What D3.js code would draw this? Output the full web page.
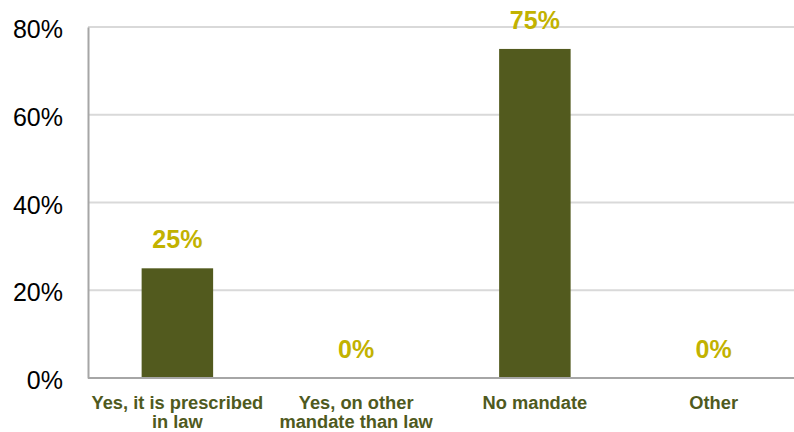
<!DOCTYPE html>
<html><head><meta charset="utf-8">
<script src="https://cdn.jsdelivr.net/npm/d3@7"></script>
<style>body{margin:0;background:#fff;}svg{display:block;font-family:"Liberation Sans",Arial,sans-serif;}</style>
</head><body>
<svg id="c" width="794" height="432"></svg>
<script>
const categories = [["Yes, it is prescribed","in law"],["Yes, on other","mandate than law"],["No mandate"],["Other"]];
const values = [25, 0, 75, 0];
const yTicks = [0, 20, 40, 60, 80];

(function(){
const svg = d3.select("#c");
const mLeft = 88, mRight = 803, mTop = 27, mBottom = 378;
const keys = categories.map((d,i)=>i);
const x = d3.scaleBand().domain(keys).range([mLeft, mRight]).paddingInner(0.6).paddingOuter(0.3);
const y = d3.scaleLinear().domain([0, 80]).range([mBottom, mTop]);

// gridlines
svg.append("g").selectAll("line").data(yTicks.filter(t=>t>0)).join("line")
  .attr("x1", mLeft).attr("x2", 794).attr("y1", d=>y(d)).attr("y2", d=>y(d))
  .attr("stroke", "#d9d9d9").attr("stroke-width", 2);

// y axis
const ya = svg.append("g").attr("transform", `translate(${mLeft},0)`)
  .call(d3.axisLeft(y).tickValues(yTicks).tickFormat(d=>d+"%").tickSize(0).tickPadding(25));
ya.select(".domain").attr("stroke", "#a6a6a6").attr("stroke-width", 2);
ya.selectAll("text").attr("font-size", 25).attr("fill", "#000").attr("dy", "0.42em")
  .attr("font-family", "Liberation Sans, Arial, sans-serif");

// bars
svg.append("g").selectAll("rect").data(values).join("rect")
  .attr("x", (d,i)=>x(i)).attr("width", x.bandwidth())
  .attr("y", d=>y(d)).attr("height", d=>mBottom - y(d))
  .attr("fill", "#525a1e");

// baseline
svg.append("line").attr("x1", mLeft).attr("x2", 794).attr("y1", mBottom).attr("y2", mBottom)
  .attr("stroke", "#a6a6a6").attr("stroke-width", 2);

// value labels
svg.append("g").selectAll("text").data(values).join("text")
  .attr("x", (d,i)=>x(i)+x.bandwidth()/2).attr("y", d=>y(d)-20)
  .attr("text-anchor", "middle").attr("font-size", 25).attr("font-weight", "bold")
  .attr("fill", "#c2b200").text(d=>d+"%");

// category labels (each line its own text element)
categories.forEach((lines, i) => {
  lines.forEach((line, j) => {
    svg.append("text")
      .attr("x", x(i)+x.bandwidth()/2).attr("y", 409 + j*19)
      .attr("text-anchor", "middle").attr("font-size", 18.3).attr("font-weight", "bold")
      .attr("fill", "#4f5a1e").text(line);
  });
});
})();
</script>
</body></html>
